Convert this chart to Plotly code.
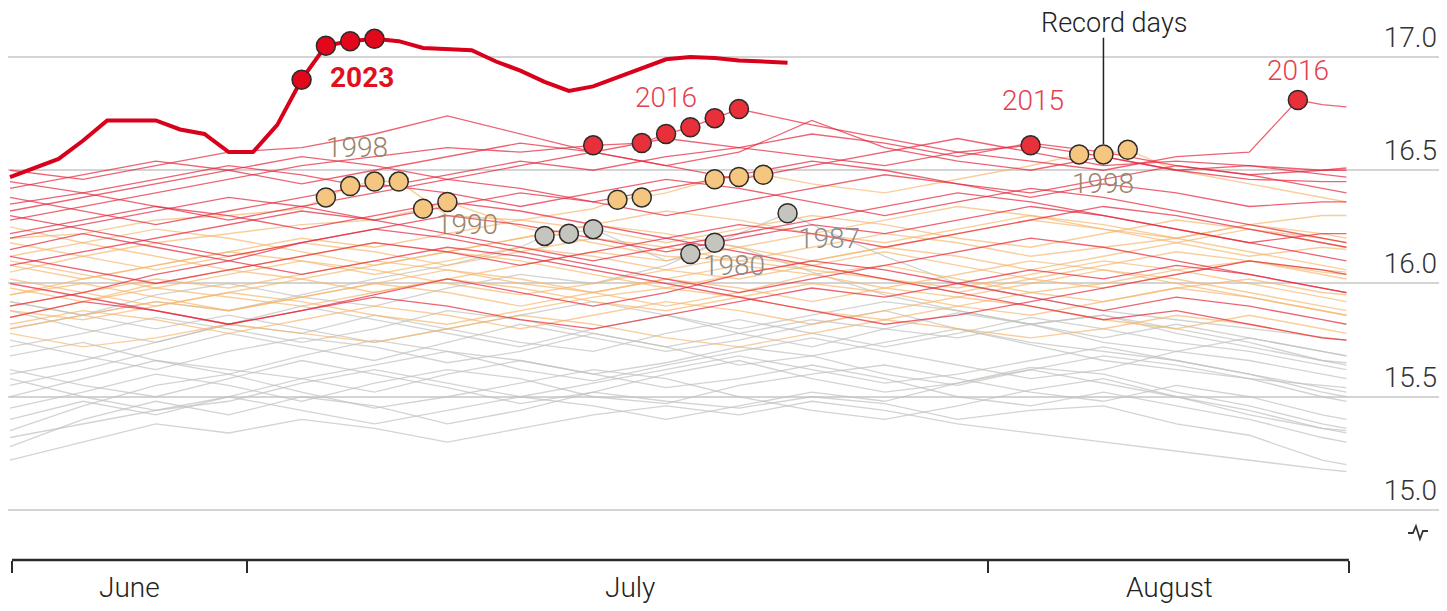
import plotly.graph_objects as go

# days since 21 June (one tick = one day)
DAYS = [0, 3, 6, 9, 12, 15, 18, 21, 24, 27, 30, 33, 36, 39, 42, 45, 48, 51, 54, 55]

# background years, every third day
GREY_YEARS = {
    1972: [15.22, 15.30, 15.38, 15.34, 15.40, 15.36, 15.30, 15.36, 15.42, 15.46, 15.42, 15.48, 15.44, 15.38, 15.34, 15.30, 15.26, 15.22, 15.18, 15.17],
    1973: [15.58, 15.50, 15.44, 15.48, 15.56, 15.62, 15.56, 15.50, 15.56, 15.62, 15.68, 15.62, 15.56, 15.60, 15.66, 15.72, 15.66, 15.60, 15.54, 15.52],
    1974: [15.92, 15.86, 15.80, 15.86, 15.80, 15.74, 15.80, 15.86, 15.92, 15.86, 15.80, 15.86, 15.92, 15.88, 15.82, 15.76, 15.82, 15.76, 15.70, 15.68],
    1975: [15.32, 15.38, 15.44, 15.50, 15.44, 15.38, 15.44, 15.50, 15.46, 15.40, 15.46, 15.52, 15.48, 15.56, 15.62, 15.56, 15.50, 15.42, 15.36, 15.35],
    1976: [15.28, 15.40, 15.48, 15.42, 15.50, 15.46, 15.38, 15.44, 15.52, 15.48, 15.45, 15.50, 15.47, 15.40, 15.44, 15.46, 15.38, 15.33, 15.22, 15.20],
    1977: [15.45, 15.52, 15.60, 15.55, 15.48, 15.56, 15.62, 15.58, 15.50, 15.47, 15.55, 15.60, 15.64, 15.58, 15.52, 15.48, 15.55, 15.50, 15.42, 15.40],
    1978: [15.62, 15.55, 15.50, 15.58, 15.66, 15.60, 15.54, 15.47, 15.52, 15.60, 15.66, 15.58, 15.52, 15.56, 15.63, 15.60, 15.52, 15.46, 15.38, 15.36],
    1979: [15.75, 15.68, 15.62, 15.70, 15.76, 15.72, 15.65, 15.70, 15.78, 15.72, 15.64, 15.68, 15.74, 15.80, 15.73, 15.66, 15.62, 15.58, 15.55, 15.54],
    1980: [15.80, 15.86, 15.92, 15.88, 15.95, 16.02, 16.08, 16.16, 16.24, 16.10, 16.16, 16.05, 15.95, 15.88, 15.82, 15.86, 15.78, 15.72, 15.66, 15.65],
    1981: [15.55, 15.62, 15.70, 15.78, 15.72, 15.66, 15.74, 15.82, 15.76, 15.70, 15.75, 15.82, 15.88, 15.80, 15.74, 15.70, 15.66, 15.60, 15.52, 15.50],
    1982: [15.35, 15.46, 15.55, 15.60, 15.52, 15.45, 15.50, 15.56, 15.62, 15.58, 15.50, 15.44, 15.40, 15.46, 15.53, 15.58, 15.50, 15.44, 15.36, 15.34],
    1983: [15.88, 15.80, 15.74, 15.82, 15.90, 15.84, 15.78, 15.72, 15.80, 15.86, 15.78, 15.72, 15.80, 15.87, 15.82, 15.74, 15.70, 15.76, 15.70, 15.68],
    1984: [15.50, 15.58, 15.66, 15.62, 15.58, 15.64, 15.70, 15.66, 15.60, 15.65, 15.72, 15.68, 15.60, 15.55, 15.62, 15.68, 15.64, 15.58, 15.50, 15.48],
    1985: [15.68, 15.74, 15.66, 15.60, 15.68, 15.75, 15.70, 15.62, 15.57, 15.64, 15.70, 15.76, 15.70, 15.64, 15.58, 15.62, 15.70, 15.66, 15.60, 15.58],
    1986: [15.40, 15.48, 15.42, 15.50, 15.58, 15.52, 15.60, 15.66, 15.60, 15.54, 15.58, 15.64, 15.58, 15.50, 15.46, 15.52, 15.46, 15.40, 15.32, 15.30],
    1987: [15.92, 15.86, 15.95, 16.00, 15.94, 15.90, 15.98, 16.04, 16.00, 16.08, 16.22, 16.26, 16.12, 16.00, 15.94, 15.88, 15.84, 15.80, 15.76, 15.75],
    1988: [15.72, 15.78, 15.85, 15.80, 15.74, 15.80, 15.88, 15.84, 15.78, 15.72, 15.78, 15.84, 15.80, 15.76, 15.82, 15.86, 15.80, 15.74, 15.66, 15.64],
    1989: [15.60, 15.66, 15.74, 15.82, 15.78, 15.86, 15.80, 15.74, 15.70, 15.78, 15.84, 15.78, 15.72, 15.78, 15.85, 15.80, 15.74, 15.70, 15.64, 15.62],
}

ORANGE_YEARS = {
    1990: [16.05, 16.12, 16.18, 16.22, 16.26, 16.28, 16.36, 16.25, 16.18, 16.12, 16.10, 16.06, 16.02, 15.98, 16.04, 16.10, 16.06, 16.00, 15.94, 15.92],
    1991: [15.85, 15.92, 15.98, 15.94, 15.90, 15.96, 16.02, 15.98, 15.92, 15.88, 15.94, 16.00, 15.96, 15.90, 15.86, 15.92, 15.98, 15.94, 15.88, 15.86],
    1992: [15.78, 15.72, 15.76, 15.82, 15.78, 15.74, 15.80, 15.86, 15.82, 15.76, 15.72, 15.78, 15.84, 15.80, 15.76, 15.80, 15.86, 15.82, 15.76, 15.75],
    1993: [15.95, 16.00, 15.94, 15.88, 15.94, 16.00, 16.06, 16.02, 15.96, 15.90, 15.96, 16.04, 16.08, 16.02, 15.96, 16.00, 16.06, 16.10, 16.04, 16.02],
    1994: [16.10, 16.04, 15.98, 16.04, 16.10, 16.06, 16.00, 15.95, 16.00, 16.06, 16.12, 16.08, 16.02, 15.96, 16.02, 16.08, 16.14, 16.10, 16.05, 16.04],
    1995: [16.18, 16.12, 16.06, 16.12, 16.18, 16.14, 16.08, 16.14, 16.20, 16.16, 16.10, 16.16, 16.22, 16.18, 16.12, 16.16, 16.20, 16.14, 16.08, 16.06],
    1996: [15.82, 15.88, 15.84, 15.78, 15.84, 15.90, 15.86, 15.80, 15.86, 15.92, 15.88, 15.82, 15.88, 15.94, 15.90, 15.84, 15.80, 15.86, 15.80, 15.78],
    1997: [15.98, 15.92, 16.00, 16.06, 16.02, 15.96, 16.02, 16.08, 16.14, 16.10, 16.16, 16.22, 16.18, 16.24, 16.30, 16.26, 16.20, 16.26, 16.22, 16.20],
    1998: [16.20, 16.22, 16.28, 16.30, 16.33, 16.45, 16.30, 16.28, 16.33, 16.40, 16.47, 16.44, 16.40, 16.46, 16.52, 16.57, 16.50, 16.44, 16.38, 16.36],
    1999: [15.90, 15.96, 16.02, 15.98, 16.04, 16.10, 16.06, 16.00, 15.96, 16.02, 16.08, 16.04, 15.98, 15.94, 16.00, 16.06, 16.02, 15.96, 15.90, 15.88],
    2000: [16.02, 15.96, 15.90, 15.96, 16.02, 16.08, 16.14, 16.10, 16.04, 15.98, 16.04, 16.10, 16.16, 16.12, 16.06, 16.12, 16.18, 16.24, 16.20, 16.18],
    2001: [16.25, 16.18, 16.12, 16.06, 16.12, 16.18, 16.14, 16.20, 16.26, 16.22, 16.16, 16.10, 16.16, 16.22, 16.28, 16.24, 16.18, 16.12, 16.16, 16.15],
    2002: [15.88, 15.84, 15.90, 15.96, 15.92, 15.86, 15.82, 15.88, 15.94, 15.98, 15.94, 15.88, 15.84, 15.90, 15.96, 15.92, 15.98, 16.02, 15.96, 15.95],
    2003: [16.12, 16.18, 16.24, 16.20, 16.14, 16.08, 16.14, 16.20, 16.26, 16.32, 16.28, 16.22, 16.28, 16.34, 16.30, 16.24, 16.20, 16.26, 16.30, 16.30],
    2004: [15.95, 16.02, 16.08, 16.14, 16.10, 16.04, 16.10, 16.16, 16.12, 16.06, 16.02, 16.08, 16.14, 16.08, 16.02, 15.98, 16.04, 16.10, 16.06, 16.05],
    2005: [16.08, 16.02, 16.08, 16.14, 16.20, 16.16, 16.22, 16.28, 16.24, 16.18, 16.24, 16.30, 16.26, 16.20, 16.16, 16.22, 16.28, 16.24, 16.18, 16.16],
    2006: [15.80, 15.86, 15.92, 15.88, 15.94, 16.00, 15.96, 15.90, 15.96, 16.02, 15.98, 15.92, 15.98, 16.04, 16.10, 16.06, 16.00, 15.94, 15.88, 15.86],
}

RED_YEARS = {
    2007: [15.85, 15.92, 15.88, 15.82, 15.88, 15.95, 16.02, 15.96, 15.90, 15.96, 16.04, 16.10, 16.06, 16.00, 15.94, 15.88, 15.94, 15.90, 15.84, 15.82],
    2008: [16.00, 15.94, 15.88, 15.82, 15.88, 15.94, 15.90, 15.84, 15.80, 15.86, 15.92, 15.98, 15.94, 16.00, 16.06, 16.02, 16.08, 16.04, 15.98, 15.96],
    2009: [16.15, 16.22, 16.16, 16.10, 16.04, 16.10, 16.16, 16.12, 16.06, 16.00, 15.94, 15.88, 15.82, 15.86, 15.92, 15.98, 16.04, 16.10, 16.06, 16.04],
    2010: [16.30, 16.24, 16.18, 16.12, 16.18, 16.24, 16.20, 16.14, 16.08, 16.02, 15.96, 16.02, 16.08, 16.14, 16.20, 16.16, 16.10, 16.04, 15.98, 15.96],
    2011: [15.90, 15.96, 16.04, 16.10, 16.18, 16.24, 16.30, 16.26, 16.20, 16.14, 16.20, 16.26, 16.22, 16.28, 16.34, 16.30, 16.24, 16.18, 16.12, 16.10],
    2012: [16.22, 16.28, 16.34, 16.30, 16.24, 16.30, 16.36, 16.32, 16.26, 16.20, 16.14, 16.08, 16.02, 15.96, 15.90, 15.84, 15.88, 15.82, 15.76, 15.75],
    2013: [16.08, 16.14, 16.20, 16.26, 16.32, 16.28, 16.22, 16.16, 16.10, 16.16, 16.22, 16.28, 16.34, 16.40, 16.36, 16.30, 16.24, 16.18, 16.22, 16.22],
    2014: [16.38, 16.32, 16.26, 16.32, 16.38, 16.44, 16.40, 16.34, 16.40, 16.46, 16.42, 16.36, 16.30, 16.36, 16.42, 16.38, 16.32, 16.26, 16.20, 16.18],
    2015: [16.45, 16.40, 16.46, 16.52, 16.48, 16.42, 16.48, 16.54, 16.50, 16.56, 16.60, 16.56, 16.52, 16.58, 16.61, 16.56, 16.50, 16.52, 16.48, 16.47],
    2016: [16.28, 16.34, 16.40, 16.46, 16.52, 16.56, 16.60, 16.58, 16.61, 16.66, 16.77, 16.70, 16.64, 16.58, 16.54, 16.50, 16.56, 16.58, 16.79, 16.78],
    2017: [16.35, 16.40, 16.34, 16.28, 16.34, 16.40, 16.46, 16.42, 16.36, 16.42, 16.48, 16.54, 16.50, 16.44, 16.40, 16.46, 16.52, 16.48, 16.42, 16.40],
    2018: [16.12, 16.06, 16.00, 16.06, 16.12, 16.18, 16.14, 16.08, 16.14, 16.20, 16.26, 16.22, 16.16, 16.22, 16.28, 16.34, 16.30, 16.24, 16.18, 16.16],
    2019: [16.50, 16.46, 16.52, 16.58, 16.60, 16.66, 16.74, 16.66, 16.58, 16.52, 16.46, 16.52, 16.58, 16.64, 16.58, 16.52, 16.54, 16.52, 16.50, 16.50],
    2020: [16.42, 16.48, 16.54, 16.50, 16.44, 16.50, 16.56, 16.62, 16.58, 16.52, 16.58, 16.72, 16.60, 16.54, 16.50, 16.56, 16.50, 16.46, 16.45, 16.45],
    2021: [16.20, 16.26, 16.32, 16.38, 16.34, 16.28, 16.34, 16.40, 16.36, 16.30, 16.36, 16.42, 16.48, 16.44, 16.38, 16.44, 16.40, 16.34, 16.36, 16.36],
    2022: [16.32, 16.38, 16.44, 16.50, 16.56, 16.52, 16.46, 16.52, 16.58, 16.64, 16.60, 16.66, 16.62, 16.56, 16.62, 16.58, 16.52, 16.48, 16.50, 16.51],
}

# 2023, daily
Y2023_DAYS = list(range(0, 33))
Y2023_VALS = [16.47, 16.51, 16.55, 16.63, 16.72, 16.72, 16.72, 16.68, 16.66, 16.58,
              16.58, 16.70, 16.90, 17.05, 17.07, 17.08, 17.07, 17.04, 17.035, 17.03,
              16.98, 16.94, 16.89, 16.85, 16.87, 16.91, 16.95, 16.99, 17.00, 16.995,
              16.985, 16.98, 16.975]

# record days: (days, values) for each year
REC_2023 = ([12, 13, 14, 15], [16.90, 17.05, 17.07, 17.08])
REC_2016 = ([24, 26, 27, 28, 29, 30, 53], [16.61, 16.62, 16.66, 16.69, 16.73, 16.77, 16.81])
REC_2015 = ([42], [16.61])
REC_1998 = ([13, 14, 15, 16, 25, 26, 29, 30, 31, 44, 45, 46],
            [16.38, 16.43, 16.45, 16.45, 16.37, 16.38, 16.46, 16.47, 16.48, 16.57, 16.57, 16.59])
REC_1990 = ([17, 18], [16.33, 16.36])
REC_1987 = ([32], [16.31])
REC_1980 = ([22, 23, 24, 28, 29], [16.21, 16.22, 16.24, 16.13, 16.18])

RECORDS = {2016: REC_2016, 2015: REC_2015, 1998: REC_1998, 1990: REC_1990, 1987: REC_1987, 1980: REC_1980}

# year labels: text, day, value, colour
LABELS = [
    ("2023", 14.5, 16.91, "#e0101c"),
    ("2016", 27.0, 16.82, "#e5404f"),
    ("1998", 14.3, 16.60, "#9b836b"),
    ("1990", 18.8, 16.26, "#9b836b"),
    ("1980", 29.8, 16.08, "#8c8c8c"),
    ("1987", 33.7, 16.20, "#8c8c8c"),
    ("2015", 42.1, 16.81, "#e5404f"),
    ("1998", 45.0, 16.44, "#9b836b"),
    ("2016", 53.0, 16.94, "#e5404f"),
]

MONTHS = ["June", "July", "August"]
MONTH_LABEL_DAYS = [4.9, 25.5, 47.7]
MONTH_TICKS = [0.08, 9.75, 40.25, 55.1]
Y_TICKS = [15.0, 15.5, 16.0, 16.5, 17.0]

FONT = "Roboto, 'Open Sans', sans-serif"


def line_points(year, vals):
    pts = dict(zip(DAYS, vals))
    if year in RECORDS:
        pts.update(zip(*RECORDS[year]))
    xs = sorted(pts)
    return xs, [pts[d] for d in xs]


fig = go.Figure()

groups = [(GREY_YEARS, "rgba(192,192,190,0.7)", 1.3),
          (ORANGE_YEARS, "rgba(246,180,105,0.65)", 1.4),
          (RED_YEARS, "rgba(228,40,62,0.72)", 1.3)]
for years, colour, width in groups:
    for yr, vals in years.items():
        xs, ys = line_points(yr, vals)
        fig.add_trace(go.Scatter(x=xs, y=ys, mode="lines", name=str(yr),
                                 line=dict(color=colour, width=width),
                                 hoverinfo="skip", showlegend=False))

fig.add_trace(go.Scatter(x=Y2023_DAYS, y=Y2023_VALS, mode="lines", name="2023",
                         line=dict(color="#d9001b", width=4), showlegend=False))

dot_style = [(REC_1980, "#c4c5bf"), (REC_1987, "#c4c5bf"),
             (REC_1990, "#f5c67f"), (REC_1998, "#f5c67f"),
             (REC_2015, "#e8303a"), (REC_2016, "#e8303a"), (REC_2023, "#e3071c")]
for (dx, dy), colour in dot_style:
    fig.add_trace(go.Scatter(x=dx, y=dy, mode="markers", showlegend=False,
                             marker=dict(size=19, color=colour, line=dict(color="#2e2a28", width=1.5))))

for text, d, v, colour in LABELS:
    bold = text == "2023"
    fig.add_annotation(x=d, y=v, text=f"<b>{text}</b>" if bold else text, showarrow=False,
                       font=dict(family=FONT, size=28, color=colour,
                                 weight=500 if bold else 300))

# "Record days" pointer to the middle 1998 dot
rd_x, rd_y = REC_1998[0][10], REC_1998[1][10]
fig.add_shape(type="line", x0=rd_x, x1=rd_x, y0=rd_y + 0.045, y1=17.085,
              line=dict(color="#222", width=1.5))
fig.add_annotation(x=rd_x + 0.45, y=17.15, text="Record days", showarrow=False,
                   font=dict(family=FONT, size=27, color="#222", weight=300))

for m, d in zip(MONTHS, MONTH_LABEL_DAYS):
    fig.add_annotation(x=d, y=-0.0507, yref="paper", text=m, showarrow=False,
                       yanchor="middle", font=dict(family=FONT, size=28, color="#222", weight=300))

# month axis line, only over the data span
fig.add_shape(type="line", x0=MONTH_TICKS[0], x1=MONTH_TICKS[-1], y0=0, y1=0, yref="paper",
              line=dict(color="#2b2b2b", width=2.5))

# little axis-break mark (page pixels -> paper)
W, H = 1432, 552
def pp(px, py):
    return f"{(px - 8) / W:.4f},{(H - (py - 8)) / H:.4f}"
fig.add_shape(type="path", xref="paper", yref="paper",
              path=f"M{pp(1408,533)} L{pp(1413,533)} L{pp(1416,526)} L{pp(1420,539)} L{pp(1423,531)} L{pp(1428,531)}",
              line=dict(color="#333", width=1.8))

fig.update_layout(
    width=1447, height=611,
    margin=dict(l=0, r=15, t=0, b=59),
    paper_bgcolor="white", plot_bgcolor="white",
    xaxis=dict(range=[-0.0823, 58.85], domain=[0, 1], showline=False,
               ticks="outside", ticklen=12, tickwidth=1.5, tickcolor="#2b2b2b",
               tickvals=MONTH_TICKS, showticklabels=False, showgrid=False, zeroline=False),
    yaxis=dict(range=[14.7792, 17.2163], side="right", tickvals=Y_TICKS,
               ticktext=[f"{v:.1f}" for v in Y_TICKS], ticklabelposition="inside",
               ticklabelshift=-20, showgrid=True, gridcolor="#d4d4d4", gridwidth=2,
               zeroline=False, showline=False, ticks="",
               tickfont=dict(family=FONT, size=28, color="#333", weight=300)),
    showlegend=False,
)

fig.write_html("out.html")
